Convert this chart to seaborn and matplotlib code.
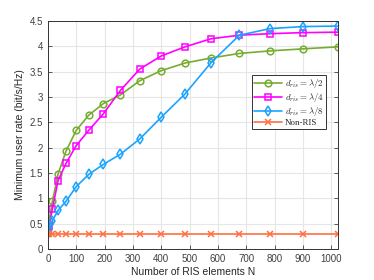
import numpy as np
import pandas as pd
import matplotlib
matplotlib.use("Agg")
import matplotlib.pyplot as plt
import seaborn as sns

N = [1, 4, 16, 36, 64, 100, 144, 196, 256, 324, 400, 484, 576, 676, 784, 900, 1024]
rate_half = [0.40, 0.55, 0.94, 1.48, 1.93, 2.34, 2.64, 2.87, 3.04, 3.32, 3.52, 3.67, 3.77, 3.86, 3.91, 3.95, 3.99]
rate_quarter = [0.43, 0.45, 0.79, 1.35, 1.69, 2.04, 2.34, 2.67, 3.13, 3.55, 3.81, 3.99, 4.15, 4.22, 4.25, 4.27, 4.28]
rate_eighth = [0.32, 0.40, 0.56, 0.76, 0.94, 1.23, 1.47, 1.67, 1.87, 2.17, 2.60, 3.06, 3.68, 4.22, 4.35, 4.39, 4.40]
rate_nonris = [0.30] * len(N)

labels = [r'$d_{ris}=\lambda/2$', r'$d_{ris}=\lambda/4$', r'$d_{ris}=\lambda/8$', 'Non-RIS']
colors = ['#77AC30', '#FF00FF', '#1AA3FF', '#FF7040']
markers = ['o', 's', 'd', 'x']
series = [rate_half, rate_quarter, rate_eighth, rate_nonris]

df = pd.concat([pd.DataFrame({'N': N, 'rate': s, 'scheme': l}) for s, l in zip(series, labels)])

sns.set_theme(style='white')
plt.rcParams['font.family'] = ['Liberation Sans', 'DejaVu Sans']
plt.rcParams['mathtext.fontset'] = 'cm'

fig = plt.figure(figsize=(3.74, 2.80), dpi=100)
ax = fig.add_axes([0.128, 0.111, 0.776, 0.814])

for l, c, m in zip(labels, colors, markers):
    sub = df[df['scheme'] == l]
    sns.lineplot(data=sub, x='N', y='rate', ax=ax, color=c, marker=m, label=l,
                 markersize=4.8 if m != 'x' else 4, markerfacecolor='none' if m != 'x' else c,
                 markeredgecolor=c, markeredgewidth=1.1, linewidth=1.2, errorbar=None)

ax.set_xlim(0, 1024)
ax.set_ylim(0, 4.5)
ax.set_xticks(np.arange(0, 1001, 100))
ax.set_yticks(np.arange(0, 4.51, 0.5))
ax.set_yticklabels(['0', '0.5', '1', '1.5', '2', '2.5', '3', '3.5', '4', '4.5'])
ax.grid(True, color='#E6E6E6', linewidth=0.8)
ax.tick_params(direction='in', length=3, labelsize=7, colors='#404040', top=False, right=True,
               bottom=True, left=True, width=0.6)
for sp in ax.spines.values():
    sp.set_color('#333333')
    sp.set_linewidth(0.7)
ax.set_xlabel('Number of RIS elements N', fontsize=7.5, color='#262626', labelpad=2)
ax.set_ylabel('Minimum user rate (bit/s/Hz)', fontsize=7.5, color='#262626', labelpad=3)

leg = ax.legend(loc='lower right', bbox_to_anchor=(0.959, 0.526),
                prop={'family': 'Liberation Serif', 'size': 6.4},
                frameon=True, fancybox=False, edgecolor='#333333', framealpha=1,
                borderpad=0.25, labelspacing=0.1, handlelength=3.1, handletextpad=0.4,
                borderaxespad=0)
leg.get_frame().set_linewidth(0.7)

fig.savefig('out.png', dpi=100)
